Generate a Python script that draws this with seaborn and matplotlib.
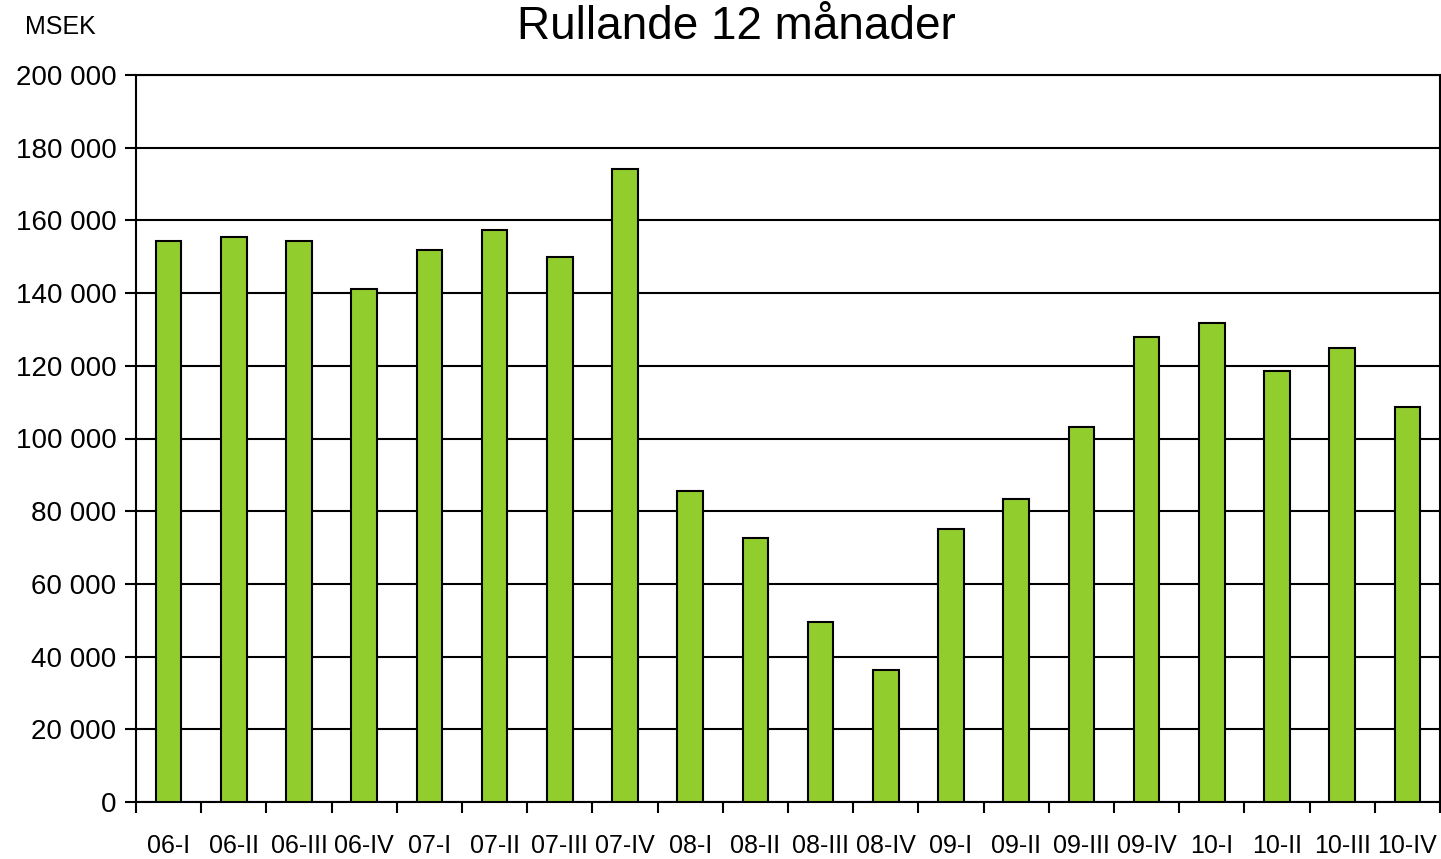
import matplotlib
matplotlib.use("Agg")
import matplotlib.pyplot as plt
import seaborn as sns
import pandas as pd
import numpy as np
from matplotlib.ticker import FuncFormatter, FixedLocator

categories = ["06-I", "06-II", "06-III", "06-IV", "07-I", "07-II", "07-III", "07-IV",
              "08-I", "08-II", "08-III", "08-IV", "09-I", "09-II", "09-III", "09-IV",
              "10-I", "10-II", "10-III", "10-IV"]
values = [154300, 155400, 154300, 141100, 151900, 157400, 149900, 174100,
          85600, 72600, 49500, 36300, 75100, 83400, 103200, 127900,
          131800, 118600, 124900, 108700]
y_ticks = [0, 20000, 40000, 60000, 80000, 100000, 120000, 140000, 160000, 180000, 200000]

df = pd.DataFrame({"kvartal": categories, "msek": values})

sns.set_theme(style="white")
plt.rcParams["font.family"] = ["Liberation Sans", "DejaVu Sans"]
plt.rcParams["text.color"] = "black"

fig = plt.figure(figsize=(14.41, 8.59), dpi=100)
ax = fig.add_axes([136/1441, 1-802/859, (1440-136)/1441, (802-75)/859])

sns.barplot(data=df, x="kvartal", y="msek", color="#92CD2E", saturation=1,
            width=0.39, edgecolor="black", linewidth=1.5, ax=ax, zorder=3)

ax.set_xlim(-0.5, len(categories)-0.5)
ax.set_ylim(0, 200000)
ax.yaxis.set_major_locator(FixedLocator(y_ticks))
ax.yaxis.set_major_formatter(FuncFormatter(lambda v, p: f"{int(v):,}".replace(",", " ")))
ax.grid(axis="y", color="black", linewidth=1.5, zorder=0)
ax.set_axisbelow(True)

for s in ax.spines.values():
    s.set_color("black")
    s.set_linewidth(1.5)

ax.set_xlabel("")
ax.set_ylabel("")
ax.tick_params(axis="x", which="major", length=0, pad=23, labelsize=18, labelcolor="black")
ax.set_xticks(np.arange(-0.5, len(categories), 1.0), minor=True)
ax.tick_params(axis="x", which="minor", length=8, width=1.5, color="black", direction="out", bottom=True)
ax.tick_params(axis="y", which="major", length=8, width=1.5, color="black", direction="out",
               left=True, labelsize=20, labelcolor="black", pad=6)

fig.text(517/1441, 1-27/859, "Rullande 12 månader", fontsize=33, ha="left", va="center", color="black")
fig.text(25/1441, 1-27/859, "MSEK", fontsize=18, ha="left", va="center", color="black")

fig.savefig("out.png", dpi=100)
